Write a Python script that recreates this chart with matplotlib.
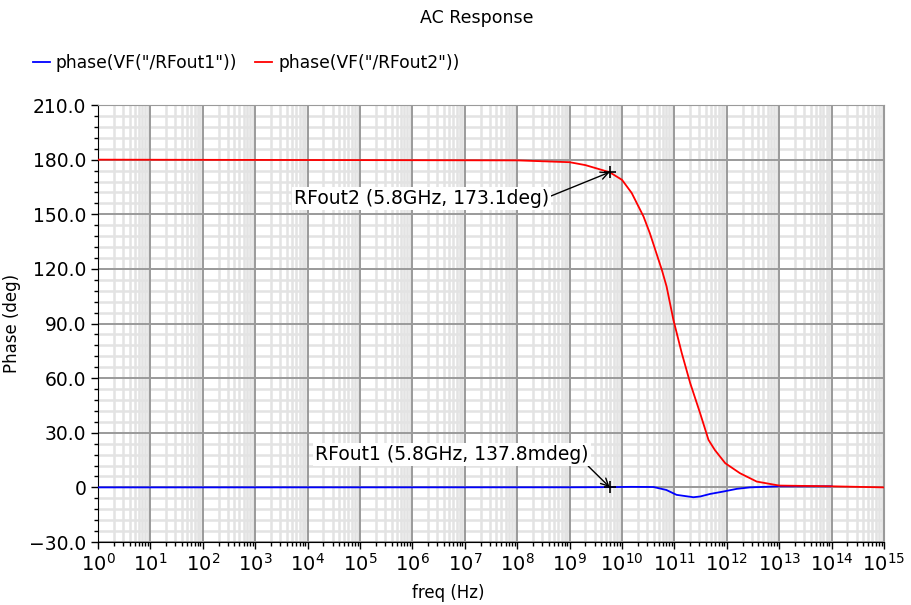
import numpy as np
import matplotlib
matplotlib.use("Agg")
import matplotlib.pyplot as plt
from matplotlib.ticker import LogLocator, MultipleLocator, FuncFormatter, NullFormatter

# red trace: phase(VF("/RFout2"))
freq2 = [1e0, 1e8, 1e9, 2e9, 5.8e9, 1e10, 1.53e10, 2.57e10, 3.39e10, 5.75e10,
         7.08e10, 9.55e10, 1.38e11, 2.0e11, 3.09e11, 4.47e11, 5.89e11,
         9.33e11, 1.78e12, 3.72e12, 1e13, 1e14, 1e15]
phase2 = [180.0, 179.6, 178.6, 177.0, 173.1, 168.9, 161.7, 148.8, 139.7, 119.5,
          110.4, 92.1, 73.8, 57.3, 40.8, 26.1, 20.6,
          13.3, 7.8, 3.2, 1.0, 0.6, 0.0]

# blue trace: phase(VF("/RFout1"))
freq1 = [1e0, 1e9, 5.8e9, 1.5e10, 4e10, 7e10, 1.1e11, 2.3e11, 3.1e11,
         4.8e11, 8.5e11, 1.55e12, 2.75e12, 1e13, 1e14]
phase1 = [0.0, 0.05, 0.138, 0.3, 0.2, -1.4, -4.1, -5.4, -5.0,
          -3.6, -2.3, -0.8, 0.0, 0.6, 0.6]

fig = plt.figure(figsize=(9.12, 6.05), dpi=100)
rect = [0.1075, 0.1041, 0.8618, 0.7223]

# background axes only carries the light minor grid, so major lines stay on top
bg = fig.add_axes(rect, zorder=0)
ax = fig.add_axes(rect, zorder=1)
ax.patch.set_alpha(0)

for a in (bg, ax):
    a.set_xscale("log")
    a.set_xlim(1e0, 1e15)
    a.set_ylim(-30, 210)
    a.xaxis.set_major_locator(LogLocator(base=10, numticks=20))
    a.xaxis.set_minor_locator(LogLocator(base=10, subs=np.arange(2, 10), numticks=200))
    a.yaxis.set_major_locator(MultipleLocator(30))
    a.yaxis.set_minor_locator(MultipleLocator(6))

bg.grid(which="minor", color="#e3e3e3", lw=1.8)
bg.tick_params(which="both", length=0, labelbottom=False, labelleft=False)
bg.xaxis.set_minor_formatter(NullFormatter())
for s in bg.spines.values():
    s.set_visible(False)

ax.plot(freq1, phase1, color="#0000ff", lw=1.3, zorder=3)
ax.plot(freq2, phase2, color="#ff0000", lw=1.3, zorder=4)


def yfmt(v, pos):
    if abs(v) < 1e-9:
        return "0"
    return ("%.1f" % v).replace("-", "\u2212")


ax.yaxis.set_major_formatter(FuncFormatter(yfmt))
ax.grid(which="major", color="#9a9a9a", lw=1.4, zorder=1)
ax.set_axisbelow(True)

ax.tick_params(which="major", direction="out", length=5, width=1, labelsize=13.5, colors="black")
ax.tick_params(which="minor", direction="out", length=3, width=1)
ax.tick_params(axis="x", labelsize=14, pad=3)

for s in ["top", "right"]:
    ax.spines[s].set_color("#9a9a9a")
for s in ["left", "bottom"]:
    ax.spines[s].set_color("black")

ax.set_xlabel("freq (Hz)", fontsize=12)
ax.xaxis.set_label_coords(0.445, -0.097)
ax.set_ylabel("Phase (deg)", fontsize=12, labelpad=6)
fig.text(0.523, 0.971, "AC Response", ha="center", va="center", fontsize=12.5)

# markers
ax.plot([5.8e9], [173.1], marker="+", color="black", ms=9, mew=1.2, zorder=6)
ax.plot([5.8e9], [0.138], marker="+", color="black", ms=9, mew=1.2, zorder=6)

ax.annotate("RFout2 (5.8GHz, 173.1deg)", xy=(5.8e9, 173.1), xytext=(1.5e6, 158.6),
            ha="center", va="center", fontsize=13.5,
            bbox=dict(boxstyle="square,pad=0.1", fc="white", ec="none"),
            arrowprops=dict(arrowstyle="->", color="black", lw=1, relpos=(1, 0.6),
                            shrinkA=0, shrinkB=0), zorder=5)
ax.annotate("RFout1 (5.8GHz, 137.8mdeg)", xy=(5.8e9, 0.138), xytext=(5.7e6, 17.9),
            ha="center", va="center", fontsize=13.5,
            bbox=dict(boxstyle="square,pad=0.1", fc="white", ec="none"),
            arrowprops=dict(arrowstyle="->", color="black", lw=1, relpos=(0.97, 0.3),
                            shrinkA=0, shrinkB=0), zorder=5)

# legend row at the top
fig.legend(handles=ax.lines[:2], labels=['phase(VF("/RFout1"))', 'phase(VF("/RFout2"))'],
           loc="center left", bbox_to_anchor=(0.036, 0.896), ncol=2, frameon=False,
           fontsize=12.3, handlelength=1.0, handletextpad=0.35, columnspacing=1.05,
           borderaxespad=0, borderpad=0)

fig.savefig("out.png", dpi=100)
